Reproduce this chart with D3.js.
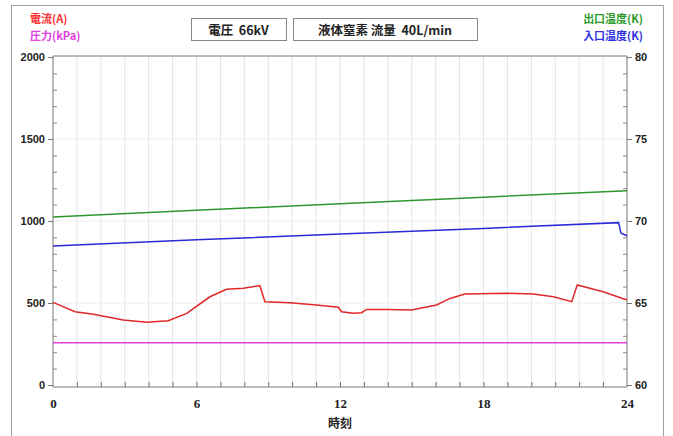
<!DOCTYPE html>
<html><head><meta charset="utf-8">
<script src="https://cdn.jsdelivr.net/npm/d3@7"></script>
<style>body{margin:0;background:#fff} text{white-space:pre}</style>
</head><body>
<svg id="c" width="673" height="436"></svg>
<script>
// Data
const currentTime = [0,0.92,1.69,2.94,3.92,4.82,5.59,6.56,7.26,7.96,8.65,8.86,9.9,11.02,11.93,12.07,12.55,12.9,13.11,13.95,14.99,16.04,16.6,17.22,18.97,20.08,20.92,21.69,21.92,23.0,24];
const currentA    = [504,447,431,396,382,392,437,538,584,590,606,508,502,488,474,447,437,441,461,461,457,488,528,555,559,555,538,508,610,569,518];
const pressureTime = [0,24];
const pressureKPa  = [257,257];
const outletTime = [0,6,12,18,24];
const outletK    = [70.25,70.65,71.05,71.45,71.85];
const inletTime = [0,6,12,18,23.65,23.75,24];
const inletK    = [68.48,68.85,69.2,69.55,69.9,69.25,69.1];
const xTicks = [0,6,12,18,24];
const leftTicks = [0,500,1000,1500,2000];
const rightTicks = [60,65,70,75,80];

const svg = d3.select("#c");
const L=53, R=627, T=56, B=387;
const x = d3.scaleLinear().domain([0,24]).range([L,R]);
const yL = d3.scaleLinear().domain([0,2000]).range([B-2,T+1]);
const yR = d3.scaleLinear().domain([60,80]).range([B-2,T+1]);

// outer frame
svg.append("rect").attr("x",11.5).attr("y",5.5).attr("width",652).attr("height",440)
  .attr("fill","none").attr("stroke","#a0a0a0").attr("stroke-width",1);

// grid
const g = svg.append("g");
g.selectAll("line.vg").data(d3.range(1,24)).enter().append("line")
  .attr("x1",d=>x(d)).attr("x2",d=>x(d)).attr("y1",T).attr("y2",B)
  .attr("stroke","#e4e4e4").attr("stroke-width",1);
g.selectAll("line.hg").data([500,1000,1500]).enter().append("line")
  .attr("x1",L).attr("x2",R).attr("y1",d=>yL(d)).attr("y2",d=>yL(d))
  .attr("stroke","#ececec").attr("stroke-width",1);

// axes frame
svg.append("line").attr("x1",L).attr("x2",R).attr("y1",T).attr("y2",T).attr("stroke","#777");
svg.append("line").attr("x1",L).attr("x2",R).attr("y1",B).attr("y2",B).attr("stroke","#777");

// left axis
const la = svg.append("g").attr("transform",`translate(${L},0)`)
  .call(d3.axisLeft(yL).tickValues(leftTicks).tickSize(5).tickPadding(3).tickFormat(d3.format("d")));
la.select(".domain").attr("stroke","#777").attr("d",`M0,${T}V${B}`);
la.selectAll(".tick line").attr("stroke","#777");
la.selectAll("text").attr("font-family","Liberation Sans, Arial, sans-serif").attr("font-weight","bold").attr("font-size",11).attr("fill","#222");
svg.append("g").attr("transform",`translate(${L},0)`)
  .call(d3.axisRight(yL).tickValues(d3.range(100,2000,100).filter(v=>v%500)).tickSize(4).tickFormat(""))
  .call(s=>{s.select(".domain").remove(); s.selectAll("line").attr("stroke","#888");});

// right axis
const ra = svg.append("g").attr("transform",`translate(${R},0)`)
  .call(d3.axisRight(yR).tickValues(rightTicks).tickSize(5).tickPadding(3).tickFormat(d3.format("d")));
ra.select(".domain").attr("stroke","#777").attr("d",`M0,${T}V${B}`);
ra.selectAll(".tick line").attr("stroke","#777");
ra.selectAll("text").attr("font-family","Liberation Sans, Arial, sans-serif").attr("font-weight","bold").attr("font-size",11).attr("fill","#222");
svg.append("g").attr("transform",`translate(${R},0)`)
  .call(d3.axisLeft(yR).tickValues(d3.range(61,80,1).filter(v=>v%5)).tickSize(4).tickFormat(""))
  .call(s=>{s.select(".domain").remove(); s.selectAll("line").attr("stroke","#888");});

// bottom axis
const ba = svg.append("g").attr("transform",`translate(0,${B})`)
  .call(d3.axisBottom(x).tickValues(xTicks).tickSize(0).tickPadding(12).tickFormat(d3.format("d")));
ba.select(".domain").remove();
ba.selectAll("text").attr("font-family","Liberation Serif, Times New Roman, serif").attr("font-weight","bold").attr("font-size",13).attr("fill","#222");
svg.append("g").attr("transform",`translate(0,${B})`)
  .call(d3.axisTop(x).tickValues(d3.range(1,24)).tickSize(5).tickFormat(""))
  .call(s=>{s.select(".domain").remove(); s.selectAll("line").attr("stroke","#777");});

svg.append("text").attr("x",340).attr("y",428).attr("text-anchor","middle")
  .attr("font-family","Noto Sans CJK JP").attr("font-weight","bold").attr("font-size",12).attr("fill","#222").text("時刻");

// lines
function draw(tArr,vArr,y,color){
  const data = tArr.map((t,i)=>[t,vArr[i]]);
  svg.append("path").datum(data)
    .attr("d",d3.line().x(d=>x(d[0])).y(d=>y(d[1])))
    .attr("fill","none").attr("stroke",color).attr("stroke-width",1.5);
}
draw(pressureTime,pressureKPa,yL,"#e040e0");
draw(currentTime,currentA,yL,"#e02828");
draw(outletTime,outletK,yR,"#2e962e");
draw(inletTime,inletK,yR,"#2a2ad8");

// legends
const lf = "Noto Sans CJK JP";
function lbl(xp,yp,txt,col,anchor){
  svg.append("text").attr("x",xp).attr("y",yp).attr("text-anchor",anchor||"start")
    .attr("font-family",lf).attr("font-weight","bold").attr("font-size",11).attr("fill",col).text(txt);
}
lbl(30,23,"電流(A)","#ff3030");
lbl(30,40,"圧力(kPa)","#e040e0");
lbl(643,23,"出口温度(K)","#2a9a2a","end");
lbl(643,40,"入口温度(K)","#3030e0","end");

// title boxes
function box(x0,x1,txt){
  svg.append("rect").attr("x",x0+0.5).attr("y",18.5).attr("width",x1-x0).attr("height",22)
    .attr("fill","#fff").attr("stroke","#888");
  svg.append("text").attr("x",(x0+x1)/2).attr("y",34.5).attr("text-anchor","middle")
    .attr("xml:space","preserve")
    .attr("font-family",lf).attr("font-weight","bold").attr("font-size",12.5).attr("fill","#222").text(txt);
}
box(191,286,"電圧  66kV");
box(293,477,"液体窒素 流量  40L/min");
</script>
</body></html>
